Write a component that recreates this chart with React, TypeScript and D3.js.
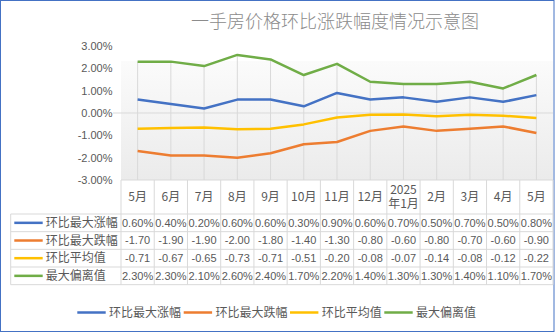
import React from "react";
import * as d3 from "d3";

const categories = ["5月", "6月", "7月", "8月", "9月", "10月", "11月", "12月", "2025\n年1月", "2月", "3月", "4月", "5月"];
const seriesNames = ["环比最大涨幅", "环比最大跌幅", "环比平均值", "最大偏离值"];
const maxRise = [0.6, 0.4, 0.2, 0.6, 0.6, 0.3, 0.9, 0.6, 0.7, 0.5, 0.7, 0.5, 0.8];
const maxFall = [-1.7, -1.9, -1.9, -2.0, -1.8, -1.4, -1.3, -0.8, -0.6, -0.8, -0.7, -0.6, -0.9];
const avgVal = [-0.71, -0.67, -0.65, -0.73, -0.71, -0.51, -0.2, -0.08, -0.07, -0.14, -0.08, -0.12, -0.22];
const maxDev = [2.3, 2.3, 2.1, 2.6, 2.4, 1.7, 2.2, 1.4, 1.3, 1.3, 1.4, 1.1, 1.7];
const yTicks = [3, 2, 1, 0, -1, -2, -3];
const colors = ["#4472C4", "#ED7D31", "#FFC000", "#70AD47"];
const title = "一手房价格环比涨跌幅度情况示意图";

const seriesValues = [maxRise, maxFall, avgVal, maxDev];
const formats = [
  (v: number) => v.toFixed(2) + "%",
  (v: number) => v.toFixed(2),
  (v: number) => v.toFixed(2),
  (v: number) => v.toFixed(2) + "%",
];

const W = 555;
const H = 332;
const plotL = 121;
const plotR = 553;
const plotTop = 46;
const plotBottom = 180;
const bgTop = 61;
const tableLeft = 10.7;
const headerBottom = 214;
const rowH = 17.67;
const txt = "#595959";
const gridC = "#d9d9d9";
const numFont = "'Liberation Sans', Arial, 'Noto Sans CJK SC', sans-serif";
const cjkFont = "'Noto Sans CJK SC', 'Microsoft YaHei', sans-serif";

export default function App() {
  const idx = categories.map((_, i) => i);
  const x = d3.scaleBand<number>().domain(idx).range([plotL, plotR]).paddingInner(0).paddingOuter(0);
  const bw = x.bandwidth();
  const cx = (i: number) => (x(i) as number) + bw / 2;
  const y = d3.scaleLinear().domain([-3, 3]).range([plotBottom, plotTop]);
  const line = d3
    .line<number>()
    .x((_, i) => cx(i))
    .y((d) => y(d));

  const maxAt = idx.map((i) => Math.max(...seriesValues.map((s) => s[i])));
  const rowsBottom = headerBottom + rowH * seriesNames.length;

  const legendX = [77.3, 183.7, 290, 384.3];

  return (
    <svg
      width={W}
      height={H}
      style={{ position: "absolute", left: 0, top: 0, background: "#fff" }}
      fontFamily={cjkFont}
    >
      <defs>
        <linearGradient id="bg" x1="0" y1="0" x2="0" y2="1">
          <stop offset="0" stopColor="#fbfbfb" />
          <stop offset="1" stopColor="#ebebeb" />
        </linearGradient>
      </defs>
      <rect x={0.5} y={0.5} width={W - 1.5} height={H - 1} fill="#fff" stroke="#4472C4" strokeWidth={1} />
      <text x={335} y={28} textAnchor="middle" fontSize={18} fill="#8c8c8c" fontWeight={300}>
        {title}
      </text>

      {/* plot background */}
      <rect x={plotL} y={bgTop} width={plotR - plotL} height={plotBottom - bgTop} fill="url(#bg)" />

      {/* y axis labels */}
      {yTicks.map((t) => (
        <text
          key={t}
          x={112.5}
          y={y(t)}
          dy="0.35em"
          textAnchor="end"
          fontSize={11}
          fontFamily={numFont}
          fill={txt}
        >
          {t.toFixed(2) + "%"}
        </text>
      ))}

      {/* drop lines */}
      {idx.map((i) => (
        <line key={"d" + i} x1={cx(i)} x2={cx(i)} y1={y(maxAt[i])} y2={plotBottom} stroke={gridC} strokeWidth={1} />
      ))}

      {/* zero axis line */}
      <line x1={113} x2={plotR} y1={y(0)} y2={y(0)} stroke={gridC} strokeWidth={1} />

      {/* series lines */}
      {seriesValues.map((s, k) => (
        <path key={"s" + k} d={line(s) as string} fill="none" stroke={colors[k]} strokeWidth={2.5} strokeLinejoin="round" />
      ))}

      {/* data table */}
      <g stroke={gridC} strokeWidth={1} fill="none">
        <line x1={plotL} x2={plotR} y1={plotBottom} y2={plotBottom} />
        {seriesNames.map((_, r) => (
          <line key={"h" + r} x1={tableLeft} x2={plotR} y1={headerBottom + r * rowH} y2={headerBottom + r * rowH} />
        ))}
        <line x1={tableLeft} x2={plotR} y1={rowsBottom} y2={rowsBottom} />
        <line x1={tableLeft} x2={tableLeft} y1={headerBottom} y2={rowsBottom} />
        {d3.range(categories.length + 1).map((i) => (
          <line key={"v" + i} x1={plotL + i * bw} x2={plotL + i * bw} y1={plotBottom} y2={rowsBottom} />
        ))}
      </g>

      {/* header labels */}
      {categories.map((c, i) => {
        const parts = c.split("\n");
        const midY = (plotBottom + headerBottom) / 2;
        return parts.map((p, j) => (
          <text
            key={"c" + i + "_" + j}
            x={cx(i)}
            y={midY + (j - (parts.length - 1) / 2) * 14}
            dy="0.35em"
            textAnchor="middle"
            fontSize={12}
            fill={txt}
          >
            {p}
          </text>
        ));
      })}

      {/* row legend + values */}
      {seriesNames.map((name, r) => {
        const ry = headerBottom + r * rowH + rowH / 2;
        return (
          <g key={"r" + r}>
            <line x1={14.3} x2={42.7} y1={ry} y2={ry} stroke={colors[r]} strokeWidth={2.5} />
            <text x={45.7} y={ry} dy="0.36em" fontSize={12} fill={txt}>
              {name}
            </text>
            {seriesValues[r].map((v, i) => (
              <text
                key={i}
                x={cx(i)}
                y={ry}
                dy="0.36em"
                textAnchor="middle"
                fontSize={11}
                fontFamily={numFont}
                fill={txt}
              >
                {formats[r](v)}
              </text>
            ))}
          </g>
        );
      })}

      {/* bottom legend */}
      {seriesNames.map((name, k) => (
        <g key={"l" + k}>
          <line x1={legendX[k]} x2={legendX[k] + 28.4} y1={312.5} y2={312.5} stroke={colors[k]} strokeWidth={2.5} />
          <text x={legendX[k] + 31.7} y={312.5} dy="0.36em" fontSize={12} fill={txt}>
            {name}
          </text>
        </g>
      ))}
    </svg>
  );
}
